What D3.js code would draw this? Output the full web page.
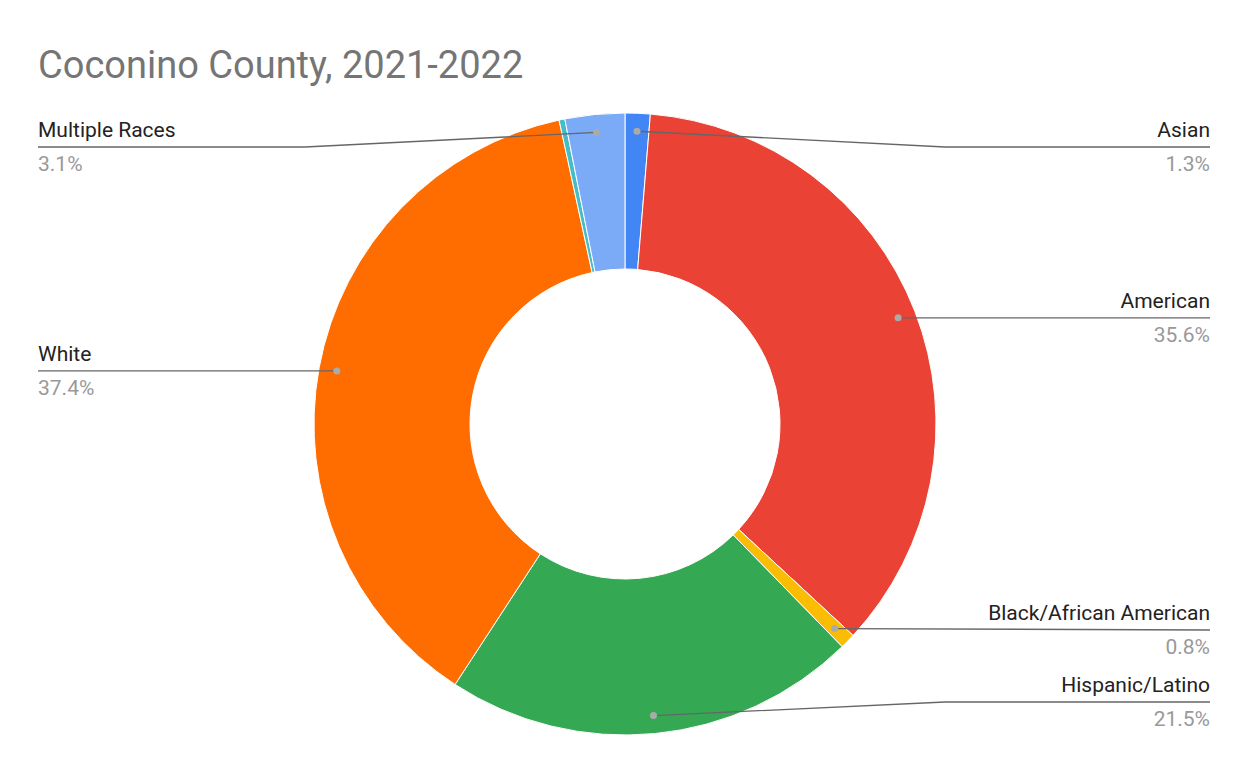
<!DOCTYPE html>
<html><head><meta charset="utf-8">
<script src="https://cdn.jsdelivr.net/npm/d3@7"></script>
<style>body{margin:0;background:#fff;font-family:Roboto,Arial,sans-serif}</style>
</head><body><svg id="c" width="1250" height="773"></svg>
<script>
const categories=["Asian","American","Black/African American","Hispanic/Latino","White","Native Hawaiian/Pacific Islander","Multiple Races"];
const values=[1.3,35.6,0.8,21.5,37.4,0.3,3.1];
const colors=["#4285F4","#EA4335","#FBBC04","#34A853","#FF6D01","#46BDC6","#7BAAF7"];
const labelShown=[true,true,true,true,true,false,true];
const labelSide=["right","right","right","right","left","left","left"];
const labelLineY=[147,null,630,702,null,null,147];

const svg=d3.select("#c");
svg.append("text").attr("x",38).attr("y",78).attr("font-size",38).attr("fill","#757575").text("Coconino County, 2021-2022");
const cx=625,cy=424,R=311,r=155;
const g=svg.append("g").attr("transform",`translate(${cx},${cy})`);
const pie=d3.pie().sort(null).value(d=>d)(values);
const arc=d3.arc().innerRadius(r).outerRadius(R);
g.selectAll("path").data(pie).join("path").attr("d",arc).attr("fill",(d,i)=>colors[i]).attr("stroke","#fff").attr("stroke-width",1);
const dotArc=d3.arc().innerRadius(293).outerRadius(293);
pie.forEach((d,i)=>{
  if(!labelShown[i])return;
  const [px,py]=dotArc.centroid(d);
  const dx=cx+px,dy=cy+py;
  const ly=labelLineY[i]==null?dy:labelLineY[i];
  const right=labelSide[i]==="right";
  const ex=right?1210:38, bx=right?945:305;
  const pts=Math.abs(ly-dy)>3?[[dx,dy],[bx,ly],[ex,ly]]:[[dx,dy],[ex,ly]];
  svg.append("path").attr("d",d3.line()(pts)).attr("fill","none").attr("stroke","#666").attr("stroke-width",1.3);
  svg.append("circle").attr("cx",dx).attr("cy",dy).attr("r",3.5).attr("fill","#aaa");
  const anchor=right?"end":"start";
  svg.append("text").attr("x",ex).attr("y",ly-10).attr("text-anchor",anchor).attr("font-size",21).attr("fill","#222").text(categories[i]);
  svg.append("text").attr("x",ex).attr("y",ly+24).attr("text-anchor",anchor).attr("font-size",21).attr("fill","#999").text(values[i].toFixed(1)+"%");
});
</script></body></html>
